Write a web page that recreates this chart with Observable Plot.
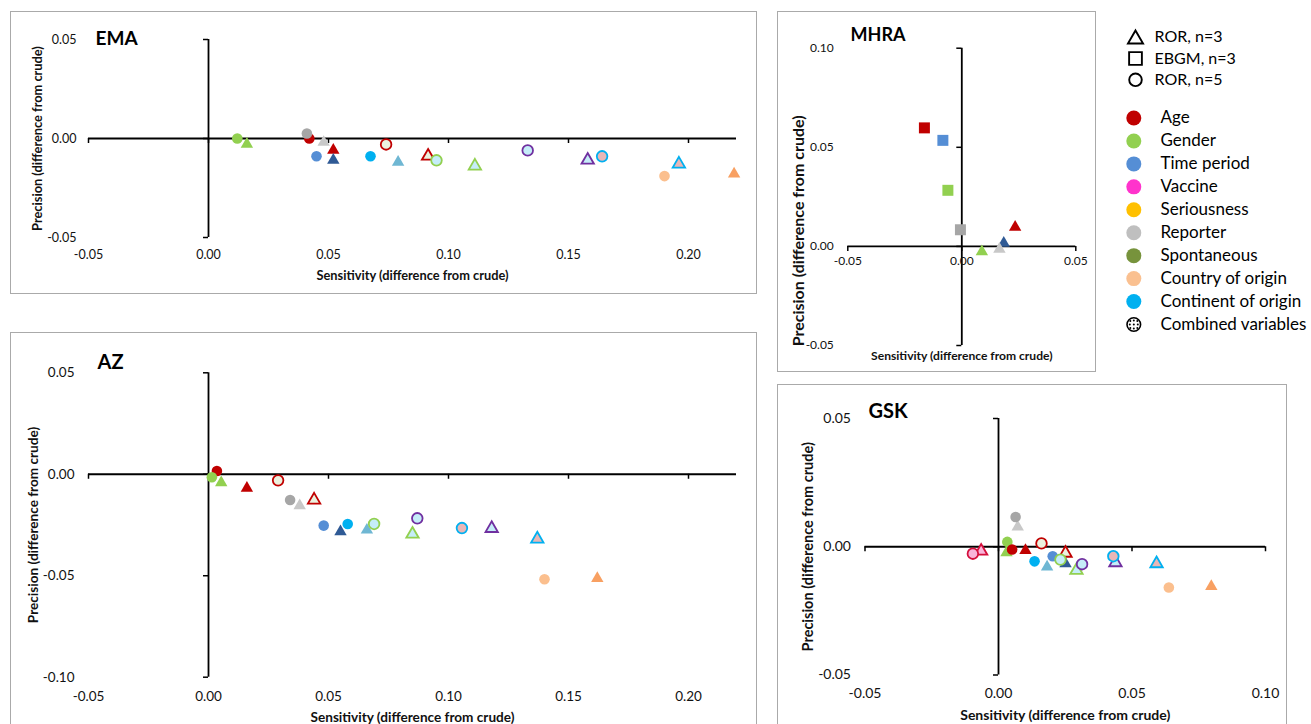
<!DOCTYPE html>
<html>
<head>
<meta charset="utf-8">
<script src="https://cdn.jsdelivr.net/npm/d3@7"></script>
<script src="https://cdn.jsdelivr.net/npm/@observablehq/plot@0.6"></script>
<style>
  html, body { margin: 0; padding: 0; background: #fff; }
  body { width: 1311px; height: 724px; overflow: hidden; font-family: Lato, sans-serif; }
  #root { position: relative; width: 1311px; height: 724px; overflow: hidden; }
  .frame { position: absolute; border: 1px solid #aaaaaa; box-sizing: border-box; pointer-events: none; }
  svg { position: absolute; }
</style>
</head>
<body>
<div id="root"></div>
<script>
// ---------------- DATA ----------------
// each point: [variable, method, sensitivity diff, precision diff]
// methods: ROR3 = "ROR, n=3", EBGM3 = "EBGM, n=3", ROR5 = "ROR, n=5"
const emaPoints = [
  ["Gender", "ROR3", 0.016, -0.002],
  ["Reporter", "ROR3", 0.048, -0.001],
  ["Age", "ROR3", 0.052, -0.005],
  ["Time period", "ROR3", 0.052, -0.010],
  ["Continent of origin", "ROR3", 0.079, -0.011],
  ["Combined 1", "ROR3", 0.0915, -0.008],
  ["Combined 2", "ROR3", 0.111, -0.013],
  ["Combined 3", "ROR3", 0.158, -0.010],
  ["Combined 4", "ROR3", 0.196, -0.012],
  ["Country of origin", "ROR3", 0.219, -0.017],
  ["Gender", "ROR5", 0.012, 0.000],
  ["Age", "ROR5", 0.042, 0.000],
  ["Reporter", "ROR5", 0.041, 0.0025],
  ["Time period", "ROR5", 0.045, -0.009],
  ["Continent of origin", "ROR5", 0.0675, -0.009],
  ["Combined 1", "ROR5", 0.074, -0.003],
  ["Combined 2", "ROR5", 0.095, -0.011],
  ["Combined 3", "ROR5", 0.133, -0.006],
  ["Combined 4", "ROR5", 0.164, -0.009],
  ["Country of origin", "ROR5", 0.190, -0.019]
];
const azPoints = [
  ["Gender", "ROR3", 0.0053, -0.0033],
  ["Age", "ROR3", 0.016, -0.006],
  ["Reporter", "ROR3", 0.038, -0.0146],
  ["Combined 1", "ROR3", 0.044, -0.0118],
  ["Time period", "ROR3", 0.055, -0.0274],
  ["Continent of origin", "ROR3", 0.066, -0.0266],
  ["Combined 2", "ROR3", 0.085, -0.0286],
  ["Combined 3", "ROR3", 0.118, -0.0258],
  ["Combined 4", "ROR3", 0.137, -0.031],
  ["Country of origin", "ROR3", 0.162, -0.0504],
  ["Age", "ROR5", 0.0035, 0.0016],
  ["Gender", "ROR5", 0.0014, -0.0015],
  ["Combined 1", "ROR5", 0.029, -0.003],
  ["Reporter", "ROR5", 0.034, -0.0127],
  ["Time period", "ROR5", 0.048, -0.0253],
  ["Continent of origin", "ROR5", 0.058, -0.0245],
  ["Combined 2", "ROR5", 0.069, -0.0245],
  ["Combined 3", "ROR5", 0.087, -0.0217],
  ["Combined 4", "ROR5", 0.1056, -0.0265],
  ["Country of origin", "ROR5", 0.140, -0.0517]
];
const mhraPoints = [
  ["Age", "ROR3", 0.0234, 0.0106],
  ["Time period", "ROR3", 0.0184, 0.0025],
  ["Reporter", "ROR3", 0.0165, -0.0005],
  ["Gender", "ROR3", 0.0088, -0.0017],
  ["Age", "EBGM3", -0.0164, 0.0598],
  ["Time period", "EBGM3", -0.0083, 0.0535],
  ["Gender", "EBGM3", -0.0061, 0.0283],
  ["Reporter", "EBGM3", -0.0006, 0.0084]
];
const gskPoints = [
  ["Reporter", "ROR3", 0.0072, 0.0084],
  ["Gender", "ROR3", 0.003, -0.0016],
  ["Age", "ROR3", 0.0101, -0.0007],
  ["Combined 5", "ROR3", -0.0065, -0.001],
  ["Continent of origin", "ROR3", 0.0182, -0.0072],
  ["Combined 1", "ROR3", 0.0251, -0.0018],
  ["Time period", "ROR3", 0.0251, -0.0059],
  ["Combined 2", "ROR3", 0.0292, -0.0085],
  ["Combined 3", "ROR3", 0.0438, -0.0055],
  ["Combined 4", "ROR3", 0.0592, -0.0059],
  ["Country of origin", "ROR3", 0.0797, -0.0148],
  ["Gender", "ROR5", 0.0033, 0.0019],
  ["Age", "ROR5", 0.0051, -0.0011],
  ["Reporter", "ROR5", 0.0064, 0.0116],
  ["Combined 1", "ROR5", 0.0161, 0.0013],
  ["Combined 5", "ROR5", -0.0096, -0.0027],
  ["Continent of origin", "ROR5", 0.0135, -0.0057],
  ["Time period", "ROR5", 0.0203, -0.0037],
  ["Combined 2", "ROR5", 0.0232, -0.005],
  ["Combined 3", "ROR5", 0.0313, -0.0068],
  ["Combined 4", "ROR5", 0.043, -0.0037],
  ["Country of origin", "ROR5", 0.0638, -0.0159]
];

// tick values
const emaXTicks = [-0.05, 0.00, 0.05, 0.10, 0.15, 0.20];
const emaYTicks = [-0.05, 0.00, 0.05];
const azXTicks = [-0.05, 0.00, 0.05, 0.10, 0.15, 0.20];
const azYTicks = [-0.10, -0.05, 0.00, 0.05];
const mhraXTicks = [-0.05, 0.00, 0.05];
const mhraYTicks = [-0.05, 0.00, 0.05, 0.10];
const gskXTicks = [-0.05, 0.00, 0.05, 0.10];
const gskYTicks = [-0.05, 0.00, 0.05];

const xTitle = "Sensitivity (difference from crude)";
const yTitle = "Precision (difference from crude)";

// legend
const shapeLegend = ["ROR, n=3", "EBGM, n=3", "ROR, n=5"];
const shapeLegendMethod = ["ROR3", "EBGM3", "ROR5"];
const colorLegend = ["Age", "Gender", "Time period", "Vaccine", "Seriousness", "Reporter",
  "Spontaneous", "Country of origin", "Continent of origin", "Combined variables"];

// ---------------- STYLES ----------------
const legendColor = {
  "Age": "#C00000", "Gender": "#92D050", "Time period": "#558ED5", "Vaccine": "#FF33CC",
  "Seriousness": "#FFC000", "Reporter": "#BFBFBF", "Spontaneous": "#77933C",
  "Country of origin": "#FAC090", "Continent of origin": "#00B0F0", "Combined variables": "#ffffff"
};
const singleFill = {
  ROR5: {"Age": "#C00000", "Gender": "#92D050", "Time period": "#558ED5", "Reporter": "#A6A6A6",
         "Country of origin": "#FBBF8E", "Continent of origin": "#00B0F0"},
  ROR3: {"Age": "#C00000", "Gender": "#92D050", "Time period": "#2F5A95", "Reporter": "#C8C8C8",
         "Country of origin": "#F8A062", "Continent of origin": "#6FB7D3"},
  EBGM3: {"Age": "#C00000", "Gender": "#92D050", "Time period": "#558ED5", "Reporter": "#A6A6A6"}
};
const comboStyle = {
  "Combined 1": {stroke: "#C00000", fill: "#EBF1DE"},
  "Combined 2": {stroke: "#92D050", fill: "#C5EDF8"},
  "Combined 3": {stroke: "#7030A0", fill: "#C5EDF8"},
  "Combined 4": {stroke: "#00B0F0", fill: "#E8B7B7"},
  "Combined 5": {stroke: "#D40F3C", fill: "#F9B4D9"}
};
const symbolOf = {ROR3: "triangle", EBGM3: "square", ROR5: "circle"};
const radiusOf = {ROR3: 4.6, EBGM3: 6.2, ROR5: 5.3};

const root = document.getElementById("root");
const fmt = d => d.toFixed(2);

const panels = [
  {name: "EMA", points: emaPoints, frame: [10, 11, 747, 283], px: [88, 736], py: [39, 237],
   xdom: [-0.05, 0.22], ydom: [-0.05, 0.05], xticks: emaXTicks, yticks: emaYTicks,
   xTickOnAxis: false, xTickDy: 17, yTickDx: -12, tickFont: 12.5,
   xTitleDy: 38, yTitleDx: -51, yTitleDy: 0, xTitleFont: 12.8, yTitleFont: 12.8,
   namePos: [95, 38], nameFont: 19},
  {name: "AZ", points: azPoints, frame: [10, 332, 747, 400], px: [88, 736], py: [372.3, 676.7],
   xdom: [-0.05, 0.22], ydom: [-0.10, 0.05], xticks: azXTicks, yticks: azYTicks,
   xTickOnAxis: false, xTickDy: 19, yTickDx: -14, tickFont: 13.5,
   xTitleDy: 40, yTitleDx: -55, yTitleDy: 0, xTitleFont: 13.6, yTitleFont: 13.6,
   namePos: [97, 362], nameFont: 20},
  {name: "MHRA", points: mhraPoints, frame: [777, 11, 319, 361], px: [847.3, 1075.3], py: [47.7, 345],
   xdom: [-0.05, 0.05], ydom: [-0.05, 0.10], xticks: mhraXTicks, yticks: mhraYTicks,
   xTickOnAxis: true, xTickDy: 15, yTickDx: -14, tickFont: 12,
   xTitleDy: 11, yTitleDx: -49, yTitleDy: 34, xTitleFont: 12.1, yTitleFont: 16,
   namePos: [850, 35], nameFont: 18},
  {name: "GSK", points: gskPoints, frame: [777, 384, 510, 350], px: [864.5, 1265], py: [418, 674.5],
   xdom: [-0.05, 0.10], ydom: [-0.05, 0.05], xticks: gskXTicks, yticks: gskYTicks,
   xTickOnAxis: false, xTickDy: 19, yTickDx: -14, tickFont: 14,
   xTitleDy: 41, yTitleDx: -56.5, yTitleDy: 0, xTitleFont: 14, yTitleFont: 14.5,
   namePos: [868, 411], nameFont: 20}
];

function makePanel(cfg) {
  const [fl, ft, fw, fh] = cfg.frame;
  const [px0, px1] = cfg.px, [py0, py1] = cfg.py;
  const [x0, x1] = cfg.xdom, [y0, y1] = cfg.ydom;
  const pts = cfg.points.map(([variable, method, sens, prec]) => ({variable, method, sens, prec}));
  const fillOf = d => comboStyle[d.variable] ? comboStyle[d.variable].fill : singleFill[d.method][d.variable];
  const strokeOf = d => comboStyle[d.variable] ? comboStyle[d.variable].stroke : "none";
  const shapeMark = m => Plot.dot(pts.filter(d => d.method === m), {
    x: "sens", y: "prec", symbol: symbolOf[m], r: radiusOf[m], dy: m === "ROR3" ? 1.8 : 0,
    fill: fillOf, stroke: strokeOf, strokeWidth: 1.8
  });
  const svg = Plot.plot({
    width: fw, height: fh,
    marginLeft: px0 - fl, marginRight: fl + fw - px1,
    marginTop: py0 - ft, marginBottom: ft + fh - py1,
    x: {domain: cfg.xdom, axis: null},
    y: {domain: cfg.ydom, axis: null},
    color: {type: "identity"},
    style: {fontFamily: "Lato, sans-serif", background: "transparent", color: "#111", overflow: "visible"},
    marks: [
      Plot.ruleY([0], {x1: x0, x2: x1, stroke: "#000", strokeWidth: 1.8}),
      Plot.ruleX([0], {y1: y0, y2: y1, stroke: "#000", strokeWidth: 1.8}),
      Plot.ruleX(cfg.xticks, {x: d => d, y1: 0, y2: 0, insetBottom: -5, stroke: "#000", strokeWidth: 1.5}),
      Plot.ruleY(cfg.yticks, {y: d => d, x1: 0, x2: 0, insetLeft: -5, stroke: "#000", strokeWidth: 1.5}),
      Plot.text(cfg.xticks, {x: d => d, y: cfg.xTickOnAxis ? 0 : y0, dy: cfg.xTickDy, text: fmt,
        fontSize: cfg.tickFont, fill: "#111", lineAnchor: "middle"}),
      Plot.text(cfg.yticks, {x: x0, y: d => d, dx: cfg.yTickDx, text: fmt, textAnchor: "end",
        fontSize: cfg.tickFont, fill: "#111", lineAnchor: "middle"}),
      shapeMark("ROR3"),
      shapeMark("EBGM3"),
      shapeMark("ROR5"),
      Plot.text([xTitle], {frameAnchor: "bottom", dy: cfg.xTitleDy, textAnchor: "middle", lineAnchor: "middle",
        fontWeight: "bold", fontSize: cfg.xTitleFont, fill: "#111"}),
      Plot.text([yTitle], {frameAnchor: "left", rotate: -90, dx: cfg.yTitleDx, dy: cfg.yTitleDy,
        textAnchor: "middle", lineAnchor: "middle", fontWeight: "bold", fontSize: cfg.yTitleFont, fill: "#111"}),
      Plot.text([cfg.name], {frameAnchor: "top-left", dx: cfg.namePos[0] - px0, dy: cfg.namePos[1] - py0,
        textAnchor: "start", lineAnchor: "middle", fontWeight: "bold", fontSize: cfg.nameFont, fill: "#000"})
    ]
  });
  svg.style.left = fl + "px";
  svg.style.top = ft + "px";
  root.appendChild(svg);
  const fr = document.createElement("div");
  fr.className = "frame";
  Object.assign(fr.style, {left: fl + "px", top: ft + "px", width: fw + "px", height: fh + "px"});
  root.appendChild(fr);
}
panels.forEach(makePanel);

// ---------------- LEGEND ----------------
{
  const sIdx = new Map(shapeLegend.map((d, i) => [d, i]));
  const L1 = Plot.plot({
    width: 191, height: 66, margin: 0,
    y: {type: "linear", domain: [0, shapeLegend.length - 1], range: [11.7, 54.3], axis: null},
    style: {fontFamily: "Lato, sans-serif", background: "transparent", overflow: "visible"},
    marks: [
      ...shapeLegend.map((lab, i) => Plot.dot([lab], {
        y: d => sIdx.get(d), frameAnchor: "left", dx: 15, dy: shapeLegendMethod[i] === "ROR3" ? 2 : 0,
        symbol: symbolOf[shapeLegendMethod[i]],
        r: {ROR3: 5.6, EBGM3: 7.2, ROR5: 6.3}[shapeLegendMethod[i]],
        fill: "#fff", stroke: "#000", strokeWidth: 1.9
      })),
      Plot.text(shapeLegend, {y: d => sIdx.get(d), frameAnchor: "left", dx: 34, text: d => d, textAnchor: "start",
        lineAnchor: "middle", fontSize: 16, fill: "#000"})
    ]
  });
  L1.style.left = "1120px"; L1.style.top = "25px";
  root.appendChild(L1);

  const cIdx = new Map(colorLegend.map((d, i) => [d, i]));
  const dotOffsets = [[-3.5, -3.5], [0, -4], [3.5, -3.5], [-4, 0], [0, 0], [4, 0], [-3.5, 3.5], [0, 4], [3.5, 3.5]];
  const last = colorLegend[colorLegend.length - 1];
  const L2 = Plot.plot({
    width: 191, height: 235, margin: 0,
    y: {type: "linear", domain: [0, colorLegend.length - 1], range: [12.5, 219], axis: null},
    color: {type: "identity"},
    style: {fontFamily: "Lato, sans-serif", background: "transparent", overflow: "visible"},
    marks: [
      Plot.dot(colorLegend.slice(0, -1), {y: d => cIdx.get(d), frameAnchor: "left", dx: 13.3, r: 7.5,
        fill: d => legendColor[d]}),
      Plot.dot([last], {y: d => cIdx.get(d), frameAnchor: "left", dx: 13.3, r: 6.8, fill: "#fff", stroke: "#000", strokeWidth: 1.6}),
      ...dotOffsets.map(([ox, oy]) => Plot.dot([last], {y: d => cIdx.get(d), frameAnchor: "left", dx: 13.3 + ox, dy: oy,
        r: 1, fill: "#000"})),
      Plot.text(colorLegend, {y: d => cIdx.get(d), frameAnchor: "left", dx: 40, text: d => d, textAnchor: "start",
        lineAnchor: "middle", fontSize: 17, fill: "#000"})
    ]
  });
  L2.style.left = "1120px"; L2.style.top = "105px";
  root.appendChild(L2);
}
</script>
</body>
</html>
